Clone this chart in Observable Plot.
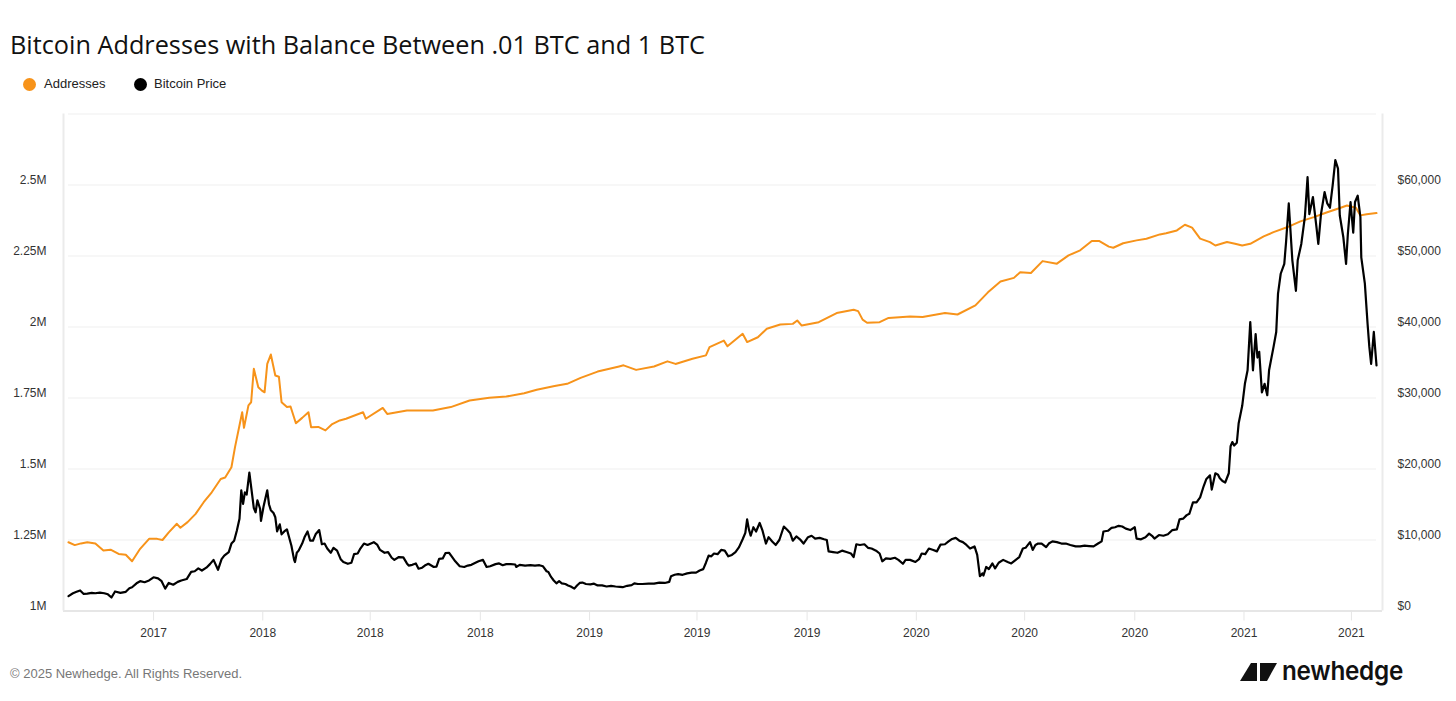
<!DOCTYPE html>
<html><head><meta charset="utf-8">
<script src="https://cdn.jsdelivr.net/npm/d3@7"></script>
<script src="https://cdn.jsdelivr.net/npm/@observablehq/plot@0.6"></script>
<style>
html,body{margin:0;padding:0;background:#fff;width:1456px;height:701px;overflow:hidden;position:relative;font-family:"Liberation Sans",Arial,sans-serif;}
#title{position:absolute;left:10px;top:28px;font-family:"Open Sans",sans-serif;font-size:26px;line-height:32px;color:#111;white-space:nowrap;transform-origin:0 50%;}
.leg{position:absolute;top:76px;font-size:13px;line-height:16px;color:#222;white-space:nowrap;}
.dot{position:absolute;width:13px;height:13px;border-radius:50%;top:77.5px;}
#chart{position:absolute;left:0;top:100px;}
#foot{position:absolute;left:10px;top:666px;font-size:13px;line-height:16px;color:#777;white-space:nowrap;}
#logoIcon{position:absolute;left:1240px;top:662px;}
#logoText{position:absolute;left:1282px;top:655px;font-family:Inter,sans-serif;font-weight:600;font-size:26px;line-height:32px;color:#111;white-space:nowrap;transform-origin:0 50%;letter-spacing:-0.3px;}
</style></head><body>
<div id="title">Bitcoin Addresses with Balance Between .01 BTC and 1 BTC</div>
<div class="dot" style="left:22.5px;background:#F7931A"></div>
<div class="leg" style="left:44px">Addresses</div>
<div class="dot" style="left:133.5px;background:#000"></div>
<div class="leg" style="left:154px">Bitcoin Price</div>
<div id="chart"></div>
<div id="foot">© 2025 Newhedge. All Rights Reserved.</div>
<svg id="logoIcon" width="38" height="20" viewBox="0 0 38 20"><polygon points="0,19 11,1 17,1 17,19" fill="#111"/><polygon points="20,1 37,1 27,19 20,19" fill="#111"/></svg>
<div id="logoText">newhedge</div>
<script>
// ---- data ----
const xDomain = ["2017-05-29", "2021-05-29"];
const xTickDates = ["2017-09-01","2018-01-01","2018-05-01","2018-09-01","2019-01-01","2019-05-01","2019-09-01","2020-01-01","2020-05-01","2020-09-01","2021-01-01","2021-05-01"];
const leftTicks = [1000000, 1250000, 1500000, 1750000, 2000000, 2250000, 2500000];
const gridLevels = [1250000, 1500000, 1750000, 2000000, 2250000, 2500000, 2750000];
const rightTicksUSD = [0, 10000, 20000, 30000, 40000, 50000, 60000];
const addressRange = [1000000, 2750000];
const priceRange = [0, 70000];

const addressSeries = [
["2017-05-29",1242000],["2017-06-05",1232000],["2017-06-12",1238000],["2017-06-19",1242000],["2017-06-28",1238000],
["2017-07-07",1213000],["2017-07-15",1216000],["2017-07-24",1201000],["2017-08-01",1198000],["2017-08-08",1175000],
["2017-08-17",1219000],["2017-08-27",1254000],["2017-09-05",1254000],["2017-09-11",1250000],["2017-09-18",1277000],
["2017-09-27",1307000],["2017-10-01",1293000],["2017-10-09",1313000],["2017-10-18",1342000],["2017-10-27",1383000],
["2017-11-05",1418000],["2017-11-15",1465000],["2017-11-20",1470000],["2017-11-27",1506000],["2017-12-01",1577000],
["2017-12-09",1700000],["2017-12-11",1645000],["2017-12-16",1724000],["2017-12-19",1735000],["2017-12-22",1853000],
["2017-12-27",1788000],["2017-12-31",1776000],["2018-01-03",1770000],["2018-01-06",1870000],["2018-01-10",1903000],
["2018-01-15",1829000],["2018-01-19",1825000],["2018-01-22",1735000],["2018-01-28",1718000],["2018-02-01",1720000],
["2018-02-07",1661000],["2018-02-14",1680000],["2018-02-21",1700000],["2018-02-24",1647000],["2018-03-04",1648000],
["2018-03-12",1636000],["2018-03-19",1657000],["2018-03-28",1671000],["2018-04-04",1677000],["2018-04-23",1700000],
["2018-04-26",1677000],["2018-05-15",1715000],["2018-05-20",1694000],["2018-06-11",1706000],["2018-07-10",1706000],
["2018-07-30",1718000],["2018-08-20",1741000],["2018-09-11",1751000],["2018-09-30",1755000],["2018-10-20",1767000],
["2018-11-03",1779000],["2018-11-23",1792000],["2018-12-07",1800000],["2018-12-22",1821000],["2019-01-10",1843000],
["2019-02-03",1861000],["2019-02-08",1865000],["2019-02-22",1849000],["2019-03-14",1861000],["2019-03-29",1879000],
["2019-04-07",1870000],["2019-04-26",1888000],["2019-05-11",1900000],["2019-05-15",1929000],["2019-05-31",1952000],
["2019-06-04",1932000],["2019-06-21",1976000],["2019-06-26",1947000],["2019-07-08",1964000],["2019-07-18",1994000],
["2019-08-02",2009000],["2019-08-16",2011000],["2019-08-21",2023000],["2019-08-26",2005000],["2019-09-14",2017000],
["2019-10-04",2049000],["2019-10-23",2061000],["2019-10-28",2056000],["2019-11-02",2026000],["2019-11-07",2015000],
["2019-11-21",2017000],["2019-12-01",2032000],["2019-12-25",2037000],["2020-01-08",2035000],["2020-02-02",2049000],
["2020-02-16",2044000],["2020-03-07",2076000],["2020-03-21",2122000],["2020-04-04",2160000],["2020-04-19",2173000],
["2020-04-26",2193000],["2020-05-08",2190000],["2020-05-21",2232000],["2020-06-06",2223000],["2020-06-19",2252000],
["2020-07-02",2270000],["2020-07-15",2303000],["2020-07-23",2303000],["2020-08-03",2283000],["2020-08-08",2279000],
["2020-08-19",2295000],["2020-09-03",2305000],["2020-09-14",2311000],["2020-09-29",2326000],["2020-10-06",2330000],
["2020-10-18",2340000],["2020-10-27",2360000],["2020-11-04",2350000],["2020-11-13",2311000],["2020-11-24",2299000],
["2020-11-30",2287000],["2020-12-13",2299000],["2020-12-22",2293000],["2020-12-30",2287000],["2021-01-08",2293000],
["2021-01-23",2319000],["2021-02-03",2334000],["2021-02-18",2351000],["2021-03-05",2372000],["2021-03-20",2387000],
["2021-04-04",2404000],["2021-04-19",2420000],["2021-04-26",2428000],["2021-05-06",2420000],["2021-05-11",2393000],
["2021-05-18",2397000],["2021-05-29",2401000]
];

const priceSeries = [
["2017-05-29",2100],["2017-06-03",2500],["2017-06-07",2700],["2017-06-11",2900],["2017-06-15",2400],["2017-06-19",2450],
["2017-06-24",2550],["2017-06-28",2500],["2017-07-03",2600],["2017-07-08",2500],["2017-07-12",2350],["2017-07-16",1900],
["2017-07-20",2750],["2017-07-26",2550],["2017-08-01",2700],["2017-08-05",3200],["2017-08-08",3350],["2017-08-13",3900],
["2017-08-17",4200],["2017-08-22",4050],["2017-08-27",4300],["2017-09-01",4750],["2017-09-06",4600],["2017-09-10",4200],
["2017-09-14",3150],["2017-09-18",3950],["2017-09-23",3700],["2017-09-28",4100],["2017-10-02",4300],["2017-10-08",4500],
["2017-10-13",5500],["2017-10-17",5600],["2017-10-21",6000],["2017-10-25",5700],["2017-10-30",6100],["2017-11-03",6600],
["2017-11-07",7200],["2017-11-12",5800],["2017-11-16",7300],["2017-11-19",7800],["2017-11-24",8300],["2017-11-27",9500],
["2017-11-30",9900],["2017-12-03",11300],["2017-12-06",13000],["2017-12-08",17000],["2017-12-10",15100],["2017-12-12",16700],
["2017-12-14",16400],["2017-12-17",19500],["2017-12-20",16500],["2017-12-22",14500],["2017-12-24",13900],["2017-12-26",15600],
["2017-12-29",14400],["2017-12-30",12700],["2018-01-02",14800],["2018-01-06",17000],["2018-01-08",15000],["2018-01-10",14200],
["2018-01-13",13800],["2018-01-15",13200],["2018-01-17",11200],["2018-01-20",12200],["2018-01-22",10800],["2018-01-25",11200],
["2018-01-28",11500],["2018-01-31",10100],["2018-02-02",9200],["2018-02-05",7200],["2018-02-06",6900],["2018-02-08",8200],
["2018-02-10",8500],["2018-02-14",9500],["2018-02-17",10500],["2018-02-20",11200],["2018-02-23",9900],["2018-02-26",9900],
["2018-03-01",10800],["2018-03-05",11400],["2018-03-08",9400],["2018-03-11",9500],["2018-03-14",8800],["2018-03-18",8200],
["2018-03-21",8900],["2018-03-25",8500],["2018-03-29",7300],["2018-04-01",6900],["2018-04-06",6650],["2018-04-10",6800],
["2018-04-13",8000],["2018-04-17",8100],["2018-04-20",8800],["2018-04-24",9500],["2018-04-28",9300],["2018-05-05",9700],
["2018-05-09",9300],["2018-05-12",8600],["2018-05-17",8200],["2018-05-21",8300],["2018-05-25",7500],["2018-05-28",7200],
["2018-06-02",7600],["2018-06-07",7550],["2018-06-11",6700],["2018-06-13",6400],["2018-06-17",6500],["2018-06-21",6700],
["2018-06-24",5950],["2018-06-28",6100],["2018-07-01",6400],["2018-07-05",6650],["2018-07-11",6200],["2018-07-14",6250],
["2018-07-17",7350],["2018-07-21",7400],["2018-07-24",8150],["2018-07-28",8200],["2018-07-31",7700],["2018-08-04",7000],
["2018-08-09",6300],["2018-08-14",6200],["2018-08-18",6400],["2018-08-22",6500],["2018-08-26",6750],["2018-08-30",7000],
["2018-09-04",7200],["2018-09-08",6200],["2018-09-12",6300],["2018-09-18",6600],["2018-09-22",6700],["2018-09-26",6450],
["2018-09-30",6600],["2018-10-05",6600],["2018-10-10",6550],["2018-10-11",6200],["2018-10-15",6500],["2018-10-21",6400],
["2018-10-27",6450],["2018-11-01",6400],["2018-11-06",6450],["2018-11-10",6300],["2018-11-14",5600],["2018-11-16",5500],
["2018-11-19",4800],["2018-11-22",4300],["2018-11-25",3900],["2018-11-28",4200],["2018-12-01",3900],["2018-12-05",3800],
["2018-12-08",3600],["2018-12-11",3450],["2018-12-15",3150],["2018-12-18",3600],["2018-12-21",3950],["2018-12-24",4000],
["2018-12-28",3800],["2019-01-02",3750],["2019-01-06",3850],["2019-01-10",3600],["2019-01-15",3600],["2019-01-20",3450],
["2019-01-25",3550],["2019-01-30",3450],["2019-02-04",3400],["2019-02-07",3350],["2019-02-12",3550],["2019-02-17",3650],
["2019-02-20",3900],["2019-02-24",3800],["2019-03-01",3800],["2019-03-08",3850],["2019-03-14",3850],["2019-03-20",4000],
["2019-03-26",3950],["2019-03-31",4100],["2019-04-02",4900],["2019-04-06",5100],["2019-04-10",5200],["2019-04-15",5100],
["2019-04-20",5300],["2019-04-25",5400],["2019-04-30",5400],["2019-05-04",5700],["2019-05-08",5900],["2019-05-11",6800],
["2019-05-14",7800],["2019-05-17",7700],["2019-05-20",8100],["2019-05-24",8000],["2019-05-28",8600],["2019-06-01",8500],
["2019-06-05",7700],["2019-06-09",7900],["2019-06-13",8300],["2019-06-17",9000],["2019-06-21",10100],["2019-06-24",11000],
["2019-06-26",12900],["2019-06-28",11500],["2019-06-30",10600],["2019-07-03",11800],["2019-07-06",11200],["2019-07-10",12400],
["2019-07-13",11400],["2019-07-17",9500],["2019-07-20",10400],["2019-07-24",9800],["2019-07-28",9300],["2019-08-01",10000],
["2019-08-06",11900],["2019-08-10",11400],["2019-08-13",11000],["2019-08-16",9900],["2019-08-20",10500],["2019-08-24",10100],
["2019-08-28",9500],["2019-09-02",10400],["2019-09-06",10600],["2019-09-10",10200],["2019-09-15",10300],["2019-09-20",10100],
["2019-09-23",10000],["2019-09-25",8400],["2019-09-30",8300],["2019-10-05",8200],["2019-10-10",8500],["2019-10-15",8300],
["2019-10-20",8100],["2019-10-23",7600],["2019-10-26",9400],["2019-10-30",9300],["2019-11-04",9400],["2019-11-08",8900],
["2019-11-12",8800],["2019-11-17",8500],["2019-11-21",8100],["2019-11-24",7000],["2019-11-28",7400],["2019-12-03",7350],
["2019-12-08",7500],["2019-12-12",7200],["2019-12-17",6650],["2019-12-20",7200],["2019-12-25",7200],["2019-12-31",6900],
["2020-01-04",7300],["2020-01-07",8100],["2020-01-11",8000],["2020-01-15",8800],["2020-01-20",8600],["2020-01-24",8400],
["2020-01-28",9350],["2020-02-02",9400],["2020-02-06",9800],["2020-02-10",10150],["2020-02-14",10300],["2020-02-18",9900],
["2020-02-22",9700],["2020-02-26",9300],["2020-03-01",8800],["2020-03-06",9100],["2020-03-09",7900],["2020-03-12",4900],
["2020-03-15",5300],["2020-03-16",5000],["2020-03-19",6200],["2020-03-22",5900],["2020-03-26",6700],["2020-03-29",6000],
["2020-04-02",6800],["2020-04-07",7200],["2020-04-12",6900],["2020-04-16",6700],["2020-04-20",7100],["2020-04-25",7600],
["2020-04-29",8800],["2020-05-02",8900],["2020-05-07",9700],["2020-05-10",8600],["2020-05-13",9300],["2020-05-16",9500],
["2020-05-20",9500],["2020-05-25",9000],["2020-05-28",9500],["2020-06-01",9800],["2020-06-06",9700],["2020-06-11",9500],
["2020-06-16",9500],["2020-06-21",9300],["2020-06-27",9100],["2020-07-02",9100],["2020-07-07",9200],["2020-07-12",9150],
["2020-07-17",9100],["2020-07-22",9500],["2020-07-26",9800],["2020-07-28",11200],["2020-08-02",11300],["2020-08-06",11700],
["2020-08-10",11800],["2020-08-14",12000],["2020-08-18",11900],["2020-08-22",11600],["2020-08-27",11400],["2020-09-01",11800],
["2020-09-03",10200],["2020-09-08",10100],["2020-09-13",10400],["2020-09-17",10900],["2020-09-21",10500],["2020-09-23",10200],
["2020-09-28",10700],["2020-10-03",10600],["2020-10-08",10800],["2020-10-13",11400],["2020-10-18",11500],["2020-10-21",12900],
["2020-10-25",13000],["2020-10-29",13500],["2020-11-01",13700],["2020-11-05",15300],["2020-11-09",15300],["2020-11-13",16000],
["2020-11-17",17600],["2020-11-20",18600],["2020-11-24",19100],["2020-11-26",17100],["2020-11-30",19400],["2020-12-03",19200],
["2020-12-05",18700],["2020-12-08",18300],["2020-12-11",18100],["2020-12-15",19400],["2020-12-17",23200],["2020-12-19",23800],
["2020-12-21",23300],["2020-12-24",23700],["2020-12-26",26400],["2020-12-30",28900],["2021-01-02",32000],["2021-01-05",33900],
["2021-01-08",40700],["2021-01-11",33900],["2021-01-14",39000],["2021-01-16",35700],["2021-01-18",36500],["2021-01-21",30800],
["2021-01-24",32000],["2021-01-27",30400],["2021-01-29",33900],["2021-02-03",37200],["2021-02-06",39300],["2021-02-08",44700],
["2021-02-11",47500],["2021-02-15",48900],["2021-02-17",52000],["2021-02-20",57400],["2021-02-24",49400],["2021-02-28",45100],
["2021-03-02",49400],["2021-03-06",51700],["2021-03-10",55500],["2021-03-13",61100],["2021-03-15",55900],["2021-03-19",58300],
["2021-03-23",54000],["2021-03-25",51700],["2021-03-28",55900],["2021-04-01",59000],["2021-04-04",57400],["2021-04-07",56800],
["2021-04-10",59900],["2021-04-13",63500],["2021-04-16",62300],["2021-04-18",55700],["2021-04-22",52600],["2021-04-25",48900],
["2021-04-27",53100],["2021-04-30",57600],["2021-05-03",53300],["2021-05-05",57600],["2021-05-08",58500],["2021-05-11",55500],
["2021-05-12",49800],["2021-05-16",46100],["2021-05-19",40500],["2021-05-21",37200],["2021-05-23",34800],["2021-05-26",39300],
["2021-05-29",34600]
];

// ---- build ----
const parse = d3.utcParse("%Y-%m-%d");
const [yLo, yHi] = addressRange;
const toLeft = p => yLo + (p - priceRange[0]) / (priceRange[1] - priceRange[0]) * (yHi - yLo);
const fromLeft = v => (v - yLo) / (yHi - yLo) * (priceRange[1] - priceRange[0]) + priceRange[0];
const addr = addressSeries.map(([d, v]) => ({date: parse(d), value: v}));
const price = priceSeries.map(([d, v]) => ({date: parse(d), value: v}));
const xd = xDomain.map(parse);
const axisGray = "#e6e6e6";

const chart = Plot.plot({
  width: 1456, height: 552,
  marginLeft: 68, marginRight: 80, marginTop: 13.5, marginBottom: 41.5,
  x: {type: "utc", domain: xd},
  y: {domain: [yLo, yHi]},
  style: {fontFamily: '"Liberation Sans", Arial, sans-serif', fontSize: "12px", color: "#333", background: "#fff", overflow: "visible"},
  marks: [
    Plot.ruleY(gridLevels, {stroke: "#efefef", strokeWidth: 1}),
    Plot.ruleY([yLo], {stroke: axisGray, strokeWidth: 2, insetLeft: -5, insetRight: -6}),
    Plot.ruleX([xd[0]], {y1: yLo, y2: yHi, dx: -5, stroke: "#ebebeb", strokeWidth: 2}),
    Plot.ruleX([xd[1]], {y1: yLo, y2: yHi, dx: 6, stroke: "#ebebeb", strokeWidth: 2}),
    Plot.axisX(xTickDates.map(parse), {tickSize: 10, tickPadding: 7, tickFormat: d3.utcFormat("%Y"), stroke: axisGray, fill: "#333", label: null}),
    Plot.axisY(leftTicks, {anchor: "left", tickSize: 0, tickPadding: 22, tickFormat: v => v / 1e6 + "M", dy: -5, fill: "#333", label: null}),
    Plot.axisY(rightTicksUSD.map(toLeft), {anchor: "right", tickSize: 0, tickPadding: 21, tickFormat: v => "$" + d3.format(",")(Math.round(fromLeft(v))), dy: -5, fill: "#333", label: null}),
    Plot.line(addr, {x: "date", y: "value", stroke: "#F7931A", strokeWidth: 2}),
    Plot.line(price, {x: "date", y: d => toLeft(d.value), stroke: "#000", strokeWidth: 2.2})
  ]
});
document.getElementById("chart").appendChild(chart);

// fit text widths to the reference
function fitWidth(id, target) {
  const el = document.getElementById(id);
  const w = el.getBoundingClientRect().width;
  if (w > 0) el.style.transform = "scaleX(" + (target / w) + ")";
}
fitWidth("title", 695);
fitWidth("logoText", 121);
</script>
</body></html>
